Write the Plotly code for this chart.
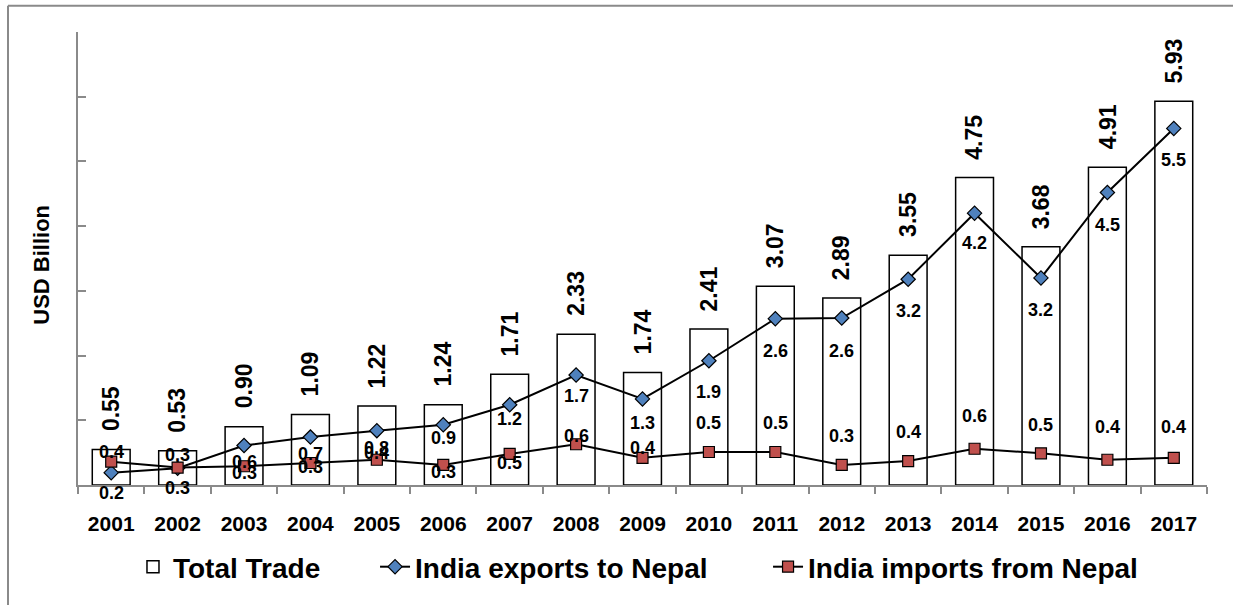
import plotly.graph_objects as go

years = [str(y) for y in range(2001, 2018)]
total_trade = [0.55, 0.53, 0.90, 1.09, 1.22, 1.24, 1.71, 2.33, 1.74, 2.41, 3.07, 2.89, 3.55, 4.75, 3.68, 4.91, 5.93]
exports = [0.19, 0.26, 0.61, 0.74, 0.84, 0.93, 1.24, 1.70, 1.33, 1.92, 2.57, 2.58, 3.18, 4.20, 3.20, 4.52, 5.51]
imports = [0.36, 0.27, 0.29, 0.34, 0.39, 0.31, 0.48, 0.63, 0.42, 0.51, 0.51, 0.31, 0.37, 0.56, 0.49, 0.39, 0.42]

# label offsets (pixels) as placed in the original chart
exp_shift = [-20, -20, -16, -17, -17, -13, -14, -21, -24, -31, -32, -33, -32, -30, -32, -33, -32]
imp_shift = [10, 13, -7, -4, 7, -7, -9, 8, 10, 29, 29, 29, 29, 33, 28, 33, 31]

FONT = "Liberation Sans, Arial, sans-serif"
LEG_FONT = dict(family=FONT, size=28, color="black", weight="bold")

fig = go.Figure()
fig.add_trace(go.Bar(
    x=years, y=total_trade, name="Total Trade", legend="legend",
    marker=dict(color="white", line=dict(color="black", width=1.5)),
))
fig.add_trace(go.Scatter(
    x=years, y=exports, name="India exports to Nepal", mode="lines+markers", legend="legend2",
    line=dict(color="black", width=2),
    marker=dict(symbol="diamond", size=11, color="#4F81BD", line=dict(color="black", width=1.2)),
))
fig.add_trace(go.Scatter(
    x=years, y=imports, name="India imports from Nepal", mode="lines+markers", legend="legend3",
    line=dict(color="black", width=2),
    marker=dict(symbol="square", size=11, color="#C0504D", line=dict(color="black", width=1.2)),
))

anns = []
for i, v in enumerate(total_trade):
    anns.append(dict(x=i, y=v, text=f"{v:.2f}", showarrow=False, textangle=-90,
                     yanchor="bottom", yshift=16,
                     font=dict(family=FONT, size=23, color="black", weight="bold")))
for i, (v, s) in enumerate(zip(exports, exp_shift)):
    anns.append(dict(x=i, y=v, text=f"{v:.1f}", showarrow=False, yanchor="middle", yshift=s,
                     font=dict(family=FONT, size=18, color="black", weight="bold")))
for i, (v, s) in enumerate(zip(imports, imp_shift)):
    anns.append(dict(x=i, y=v, text=f"{v:.1f}", showarrow=False, yanchor="middle", yshift=s,
                     font=dict(family=FONT, size=18, color="black", weight="bold")))

def leg(xpos):
    return dict(orientation="h", x=xpos, xanchor="left", y=-0.181, yanchor="middle",
                font=LEG_FONT, itemwidth=30, bgcolor="rgba(0,0,0,0)")

fig.update_layout(
    width=1233, height=605,
    margin=dict(l=78, r=26, t=32, b=120),
    paper_bgcolor="white", plot_bgcolor="white",
    bargap=0.43,
    showlegend=True,
    legend=leg(0.0487),
    legend2=leg(0.2631),
    legend3=leg(0.6112),
    annotations=anns + [
        dict(text="USD Billion", xref="paper", yref="paper", x=-0.032, y=0.486,
             xanchor="center", yanchor="middle", textangle=-90, showarrow=False,
             font=dict(family=FONT, size=22, color="black", weight="bold"))
    ],
    shapes=[
        dict(type="line", xref="paper", yref="paper", x0=-0.0620, x1=1.03, y0=1.058, y1=1.058,
             line=dict(color="#8a8a8a", width=2)),
        dict(type="line", xref="paper", yref="paper", x0=-0.0620, x1=-0.0620, y0=1.058, y1=-0.27,
             line=dict(color="#8a8a8a", width=2)),
    ],
    hovermode=False,
)
fig.update_xaxes(
    type="category", range=[-0.5, 16.5],
    showline=True, linecolor="#8a8a8a", linewidth=2,
    ticks="outside", tickson="boundaries", ticklen=7, tickcolor="#8a8a8a", tickwidth=2,
    showgrid=False, ticklabelstandoff=19,
    tickfont=dict(family=FONT, size=21, color="black", weight="bold"),
)
fig.update_yaxes(
    range=[0, 7], dtick=1, showticklabels=False,
    showline=True, linecolor="#8a8a8a", linewidth=2,
    ticks="inside", ticklen=8, tickcolor="#8a8a8a", tickwidth=2,
    showgrid=False, zeroline=False,
)

fig.write_html("out.html")
